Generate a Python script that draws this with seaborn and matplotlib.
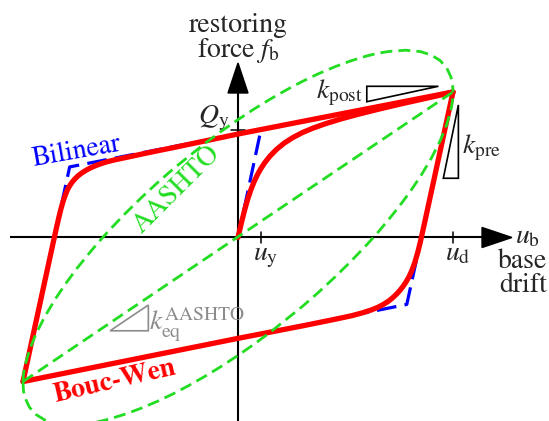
import numpy as np
import pandas as pd
import matplotlib
matplotlib.use("Agg")
import matplotlib.pyplot as plt
import seaborn as sns
from matplotlib.patches import Polygon

sns.set_style("white")
plt.rcParams['font.family'] = ['STIXGeneral', 'DejaVu Sans']
plt.rcParams['mathtext.fontset'] = 'stix'

# ---------------- data (normalised: u / u_d, f / f_max) ----------------
u_y = 0.107
u_d = 1.0
Q_y = 0.742

bilinear_u = [0.0, 0.107, 1.0, 0.785, -1.0, -0.783, 1.0]
bilinear_f = [0.0, 0.742, 1.0, -0.46, -0.99, 0.485, 1.0]

bw_initial_u = [0.0, 0.015, 0.03, 0.045, 0.06, 0.075, 0.09, 0.105, 0.125, 0.15, 0.18,
                0.215, 0.255, 0.3, 0.35, 0.41, 0.48, 0.56, 0.65, 0.75, 0.85, 0.93, 1.0]
bw_initial_f = [0.0, 0.096, 0.1845, 0.2625, 0.3285, 0.384, 0.4305, 0.4703, 0.5153, 0.5616,
                0.6066, 0.6486, 0.6866, 0.7213, 0.7523, 0.7835, 0.815, 0.847, 0.8803, 0.9153,
                0.9483, 0.9747, 1.0]

bw_unload_u = [1.0, 0.95, 0.9, 0.875, 0.86, 0.848, 0.836, 0.822, 0.808, 0.795, 0.782, 0.768,
               0.754, 0.738, 0.72, 0.70, 0.675, 0.65, 0.62, 0.58, 0.53, 0.45, 0.3, 0.0, -1.0]
bw_unload_f = [1.0, 0.66, 0.32, 0.15, 0.048, -0.031, -0.103, -0.173, -0.229, -0.2706, -0.3044,
               -0.3352, -0.3618, -0.3882, -0.4134, -0.4374, -0.4611, -0.4799, -0.4979, -0.5171,
               -0.5371, -0.5623, -0.6073, -0.693, -0.99]

bw_reload_u = [-1.0, -0.95, -0.9, -0.87, -0.855, -0.843, -0.832, -0.822, -0.812, -0.802, -0.792,
               -0.781, -0.77, -0.757, -0.743, -0.727, -0.708, -0.688, -0.665, -0.64, -0.61,
               -0.575, -0.53, -0.47, -0.4, -0.3, 0.0, 1.0]
bw_reload_f = [-0.99, -0.65, -0.31, -0.106, -0.004, 0.076, 0.146, 0.205, 0.255, 0.297, 0.332,
               0.36, 0.383, 0.405, 0.425, 0.443, 0.461, 0.477, 0.492, 0.506, 0.52,
               0.533, 0.547, 0.566, 0.588, 0.618, 0.711, 1.0]

aashto_upper_u = [-1.0, -0.998, -0.995, -0.99, -0.97, -0.94, -0.9, -0.85, -0.8, -0.75, -0.7,
                  -0.65, -0.6, -0.525, -0.45, -0.375, -0.3, -0.15, -0.075, 0.0, 0.075, 0.15,
                  0.225, 0.3, 0.375, 0.45, 0.525, 0.6, 0.65, 0.7, 0.78, 0.85, 0.9, 0.94,
                  0.97, 0.99, 0.995, 0.998, 1.0]
aashto_upper_f = [-0.99, -0.947, -0.914, -0.876, -0.773, -0.664, -0.547, -0.423, -0.314, -0.214,
                  -0.122, -0.034, 0.048, 0.164, 0.273, 0.376, 0.473, 0.651, 0.733, 0.81, 0.883,
                  0.951, 1.014, 1.073, 1.126, 1.173, 1.214, 1.248, 1.266, 1.278, 1.287, 1.277,
                  1.253, 1.216, 1.167, 1.104, 1.076, 1.051, 1.0]

aashto_lower_u = [-1.0, -0.998, -0.995, -0.99, -0.97, -0.94, -0.9, -0.85, -0.78, -0.7, -0.65,
                  -0.6, -0.525, -0.45, -0.375, -0.3, -0.225, -0.15, -0.075, 0.0, 0.075, 0.15,
                  0.3, 0.375, 0.45, 0.525, 0.6, 0.65, 0.7, 0.75, 0.8, 0.85, 0.9, 0.94, 0.97,
                  0.99, 0.995, 0.998, 1.0]
aashto_lower_f = [-0.99, -1.051, -1.076, -1.104, -1.167, -1.216, -1.253, -1.277, -1.287, -1.278,
                  -1.266, -1.248, -1.214, -1.173, -1.126, -1.073, -1.014, -0.951, -0.883, -0.81,
                  -0.733, -0.651, -0.473, -0.376, -0.273, -0.164, -0.048, 0.034, 0.122, 0.214,
                  0.314, 0.423, 0.547, 0.664, 0.773, 0.876, 0.914, 0.947, 1.0]

keq_u = [-1.0, 1.0]
keq_f = [-0.99, 1.0]

# ---------------- figure ----------------
fig = plt.figure(figsize=(5.49, 4.21), dpi=100)
ax = fig.add_axes([0, 0, 1, 1])
ax.set_xlim(-1.107, 1.4465)
ax.set_ylim(-1.261, 1.632)
ax.axis('off')

RED = '#ff0000'
BLUE = '#0000ff'
GREEN = '#22dd22'
GRAY = '#8c8c8c'

def curve(u, f, **kw):
    df = pd.DataFrame({'u': u, 'f': f})
    sns.lineplot(data=df, x='u', y='f', sort=False, estimator=None, ax=ax,
                 legend=False, **kw)

# axes
ax.plot([-1.06, 1.14], [0, 0], color='k', lw=1.5, zorder=1, solid_capstyle='butt')
ax.plot([0, 0], [-1.3, 1.0], color='k', lw=1.5, zorder=1, solid_capstyle='butt')
ax.add_patch(Polygon([(1.135, 0.069), (1.135, -0.069), (1.274, 0.0)], closed=True,
                     color='k', zorder=1))
ax.add_patch(Polygon([(-0.0465, 0.993), (0.0465, 0.993), (0.0, 1.199)], closed=True,
                     color='k', zorder=1))
for uu in (u_y, u_d):
    ax.plot([uu, uu], [-0.036, 0.04], color='k', lw=1.1, zorder=1)
ax.plot([-0.033, 0.033], [Q_y, Q_y], color='k', lw=1.1, zorder=1)

# curves
curve(bilinear_u, bilinear_f, color=BLUE, lw=2.3, dashes=(6.2, 2.6), zorder=3)
curve(bw_initial_u, bw_initial_f, color=RED, lw=3.8, zorder=4)
curve(bw_unload_u, bw_unload_f, color=RED, lw=3.8, zorder=4)
curve(bw_reload_u, bw_reload_f, color=RED, lw=3.8, zorder=4)
curve(aashto_upper_u, aashto_upper_f, color=GREEN, lw=2.0, dashes=(4.3, 2.2), zorder=5)
curve(aashto_lower_u, aashto_lower_f, color=GREEN, lw=2.0, dashes=(4.3, 2.2), zorder=5)
curve(keq_u, keq_f, color=GREEN, lw=2.0, dashes=(4.3, 2.2), zorder=5)

# slope triangles
ax.add_patch(Polygon([(0.599, 1.039), (0.599, 0.933), (0.932, 1.039)], closed=True,
                     fill=False, edgecolor='k', lw=1.2, zorder=6))
ax.add_patch(Polygon([(0.955, 0.407), (1.025, 0.407), (1.025, 0.911)], closed=True,
                     fill=False, edgecolor='k', lw=1.2, zorder=6))
ax.add_patch(Polygon([(-0.595, -0.641), (-0.417, -0.641), (-0.417, -0.464)], closed=True,
                     fill=False, edgecolor=GRAY, lw=1.2, zorder=6))

FS = 20
ax.text(0.0, 1.412, 'restoring', ha='center', va='baseline', fontsize=FS)
ax.text(0.0, 1.24, 'force $f_\\mathrm{b}$', ha='center', va='baseline', fontsize=FS)
ax.text(-0.042, 0.787, '$Q_\\mathrm{y}$', ha='right', va='baseline', fontsize=FS)
ax.text(0.072, -0.155, '$u_\\mathrm{y}$', ha='left', va='baseline', fontsize=FS)
ax.text(0.963, -0.155, '$u_\\mathrm{d}$', ha='left', va='baseline', fontsize=FS)
ax.text(1.288, -0.041, '$u_\\mathrm{b}$', ha='left', va='baseline', fontsize=FS)
ax.text(1.437, -0.21, 'base', ha='right', va='baseline', fontsize=FS)
ax.text(1.437, -0.375, 'drift', ha='right', va='baseline', fontsize=FS)
ax.text(0.363, 0.959, '$k_\\mathrm{post}$', ha='left', va='baseline', fontsize=FS)
ax.text(1.04, 0.581, '$k_\\mathrm{pre}$', ha='left', va='baseline', fontsize=FS)
ax.text(-0.414, -0.636, '$k_\\mathrm{eq}^\\mathrm{AASHTO}$', ha='left', va='baseline',
        fontsize=FS, color=GRAY)
ax.text(-0.75, 0.588, 'Bilinear', ha='center', va='center', fontsize=FS, color=BLUE,
        rotation=10)
ax.text(-0.286, 0.326, 'AASHTO', ha='center', va='center', fontsize=FS, color=GREEN,
        rotation=45)
ax.text(-0.572, -0.99, 'Bouc-Wen', ha='center', va='center', fontsize=FS, color=RED,
        rotation=13, fontweight='bold')

fig.savefig('out.png', dpi=100)
